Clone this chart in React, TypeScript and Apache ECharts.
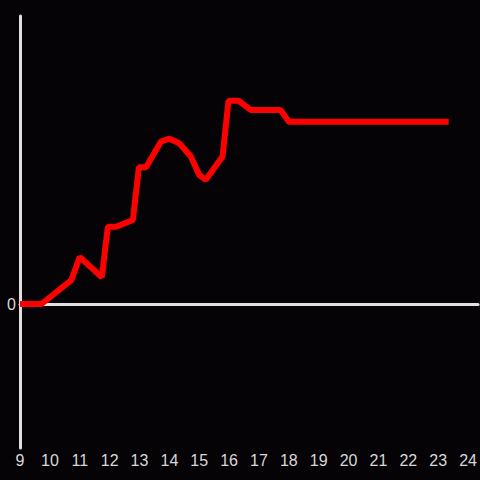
import React, { useEffect, useRef } from "react";
import * as echarts from "echarts";

const xValues = [9, 9.72, 10.72, 11.0, 11.74, 11.94, 12.22, 12.78, 12.98, 13.22, 13.72, 14.0, 14.33, 14.72, 15.0, 15.22, 15.78, 15.98, 16.31, 16.72, 17.72, 18.0, 23.35];
const yValues = [0, 0, 8.3, 16.3, 9.3, 26.8, 26.8, 29.2, 47.5, 47.5, 56.4, 57.4, 55.8, 51.2, 44.8, 43.1, 51.2, 70.6, 70.6, 67.4, 67.4, 63.3, 63.3];
const xMin = 9;
const xMax = 24 + 1 / 3;
const yMin = -50;
const yMax = 100;

export default function App() {
  const ref = useRef<HTMLDivElement>(null);
  useEffect(() => {
    if (!ref.current) return;
    const chart = echarts.init(ref.current, undefined, { renderer: "svg" });
    const axisColor = "#e0e0e0";
    const labelColor = "#d8d8d8";
    const font = "Liberation Sans";
    chart.setOption({
      animation: false,
      backgroundColor: "#050306",
      grid: { left: 20, right: 0, top: 16, bottom: 32, containLabel: false },
      xAxis: [
        {
          type: "value",
          min: xMin,
          max: xMax,
          interval: 1,
          axisLine: { show: false, onZero: false },
          axisTick: { show: false },
          splitLine: { show: false },
          axisLabel: {
            color: labelColor,
            fontSize: 16,
            fontFamily: font,
            margin: 4,
            showMaxLabel: false,
            formatter: (v: number) => (Number.isInteger(v) ? String(v) : ""),
          },
        },
        {
          type: "value",
          min: xMin,
          max: xMax,
          position: "bottom",
          axisLine: { show: true, onZero: true, lineStyle: { color: axisColor, width: 3 } },
          axisTick: { show: false },
          axisLabel: { show: false },
          splitLine: { show: false },
        },
      ],
      yAxis: {
        type: "value",
        min: yMin,
        max: yMax,
        interval: 50,
        axisLine: { show: true, lineStyle: { color: axisColor, width: 3 } },
        axisTick: { show: false },
        splitLine: { show: false },
        axisLabel: {
          color: labelColor,
          fontSize: 16,
          fontFamily: font,
          margin: 4,
          formatter: (v: number) => (v === 0 ? "0" : ""),
        },
      },
      series: [
        {
          type: "line",
          xAxisIndex: 0,
          data: xValues.map((x, i) => [x, yValues[i]]),
          showSymbol: false,
          symbol: "none",
          lineStyle: { color: "#ff0000", width: 6 },
          z: 5,
        },
      ],
    });
    return () => chart.dispose();
  }, []);
  return <div ref={ref} style={{ position: "fixed", left: 0, top: 0, width: 480, height: 480 }} />;
}
